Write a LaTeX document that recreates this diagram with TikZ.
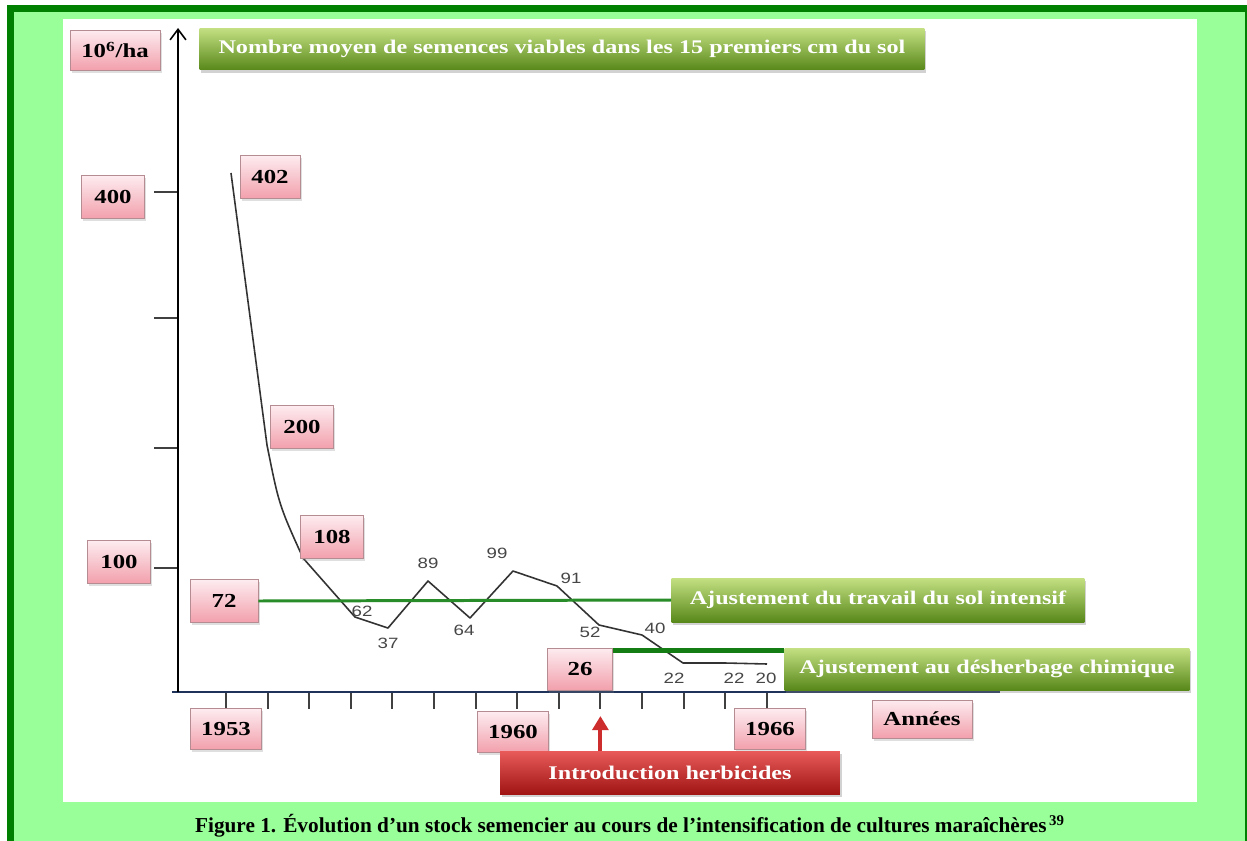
\documentclass[tikz,border=0pt]{standalone}
\usepackage{fontspec}
\setmainfont{Liberation Serif}
\setsansfont{Liberation Sans}
\newfontfamily\figfont[FakeStretch=1.25]{Liberation Serif}
\newfontfamily\figsans[FakeStretch=1.25]{Liberation Sans}
\usetikzlibrary{arrows.meta,shadows}

\definecolor{framedark}{RGB}{0,128,0}
\definecolor{framelight}{RGB}{153,255,153}
\definecolor{pinktop}{RGB}{253,236,240}
\definecolor{pinkbot}{RGB}{242,160,172}
\definecolor{pinkedge}{RGB}{180,140,145}
\definecolor{greentop}{RGB}{196,224,130}
\definecolor{greenmid}{RGB}{128,180,52}
\definecolor{greenbot}{RGB}{88,136,26}
\definecolor{redtop}{RGB}{232,90,90}
\definecolor{redmid}{RGB}{205,45,45}
\definecolor{redbot}{RGB}{160,20,20}
\definecolor{axisblue}{RGB}{30,50,90}
\definecolor{lineadj}{RGB}{40,140,40}
\definecolor{lineherb}{RGB}{20,125,20}
\definecolor{valgray}{RGB}{70,70,70}

\begin{document}
\begin{tikzpicture}[
    x=0.02cm, y=-0.02cm,
    pinkbox/.style={draw=pinkedge, top color=pinktop, bottom color=pinkbot, inner sep=1pt,
        minimum height=0.86cm, font=\figfont\bfseries\fontsize{11.3}{13}\selectfont,
        drop shadow={opacity=0.25, shadow xshift=1pt, shadow yshift=-1.5pt}},
    greenbox/.style={top color=greentop, middle color=greenmid, bottom color=greenbot,
        minimum height=0.84cm, text=white, font=\figfont\bfseries\fontsize{11}{13}\selectfont,
        drop shadow={opacity=0.35, shadow xshift=1pt, shadow yshift=-1.5pt}},
    redbox/.style={top color=redtop, middle color=redmid, bottom color=redbot,
        minimum height=0.86cm, text=white, font=\figfont\bfseries\fontsize{11}{13}\selectfont,
        drop shadow={opacity=0.35, shadow xshift=1pt, shadow yshift=-1.5pt}},
    val/.style={font=\figsans\fontsize{8.5}{10}\selectfont, text=valgray, inner sep=0pt},
    dataline/.style={draw=black!80, line width=0.9pt, line join=round},
    xaxis/.style={draw=axisblue, line width=1.7pt},
    yaxis/.style={line width=0.9pt, -{Straight Barb[length=6pt, width=9pt]}},
    axtick/.style={draw=black!75, line width=1.1pt},
    redarrow/.style={draw=redmid, line width=2.2pt, -{Triangle[length=8pt, width=9pt]}, shorten >=4pt}
]
    % frame and background
    \useasboundingbox (0,0) rectangle (1247,841);
    \fill[white] (0,0) rectangle (1247,841);
    \fill[framedark] (7,5) rectangle (1247,841);
    \fill[framelight] (14,12) rectangle (1245,841);
    \fill[white] (63,19) rectangle (1197,802);

    % axes
    \coordinate (O) at (178,692);
    \coordinate (Ytop) at (178,28);
    \coordinate (Xleft) at (172,692);
    \coordinate (Xright) at (1000,692);
    \foreach \py in {192,318,448,568} \draw[axtick] (154,\py) -- (178,\py);
    \foreach \i in {0,...,13} {
        \coordinate (T\i) at ({226+41.6*\i},709);
        \draw[axtick] ({226+41.6*\i},692) -- (T\i);
    }
    \draw[xaxis] (Xleft) -- (Xright);
    \draw[yaxis] (O) -- (Ytop);

    % axis labels
    \node[pinkbox, minimum width=1.8cm, minimum height=0.8cm] (unit) at (115,50) {10\textsuperscript{6}/ha};
    \foreach \lbl/\px/\py in {400/113/197, 100/119/562}
        \node[pinkbox, minimum width=1.26cm] (y\lbl) at (\px,\py) {\lbl};
    \foreach \lbl/\px/\py in {1953/226/729, 1960/513/732, 1966/770/729}
        \node[pinkbox, minimum width=1.42cm, minimum height=0.82cm] (x\lbl) at (\px,\py) {\lbl};
    \node[pinkbox, minimum width=2cm, minimum height=0.76cm] (annees) at (922,719) {Années};

    % data
    \foreach \yr/\px/\py in {1953/231/173, 1954/267/445, 1955/303/558, 1956/355/617, 1957/388/628,
        1958/428/581, 1959/470/618, 1960/513/571, 1961/557/586, 1962/599/625, 1963/642/635,
        1964/683/663, 1965/725/663, 1966/767/664} {
        \coordinate (P\yr) at (\px,\py);
    }
    \draw[dataline] (P1953) -- (P1954) .. controls (279,505) .. (P1955) -- (P1956) -- (P1957)
        -- (P1958) -- (P1959) -- (P1960) -- (P1961) -- (P1962) -- (P1963) -- (P1964)
        -- (P1965) -- (P1966);
    \foreach \v/\px/\py [count=\k] in {62/362/611, 37/388/643, 89/428/563, 64/464/630, 99/497/553,
        91/571/578, 52/590/632, 40/655/628, 22/674/678, 22/734/678, 20/766/678}
        \node[val] (v\k) at (\px,\py) {\v};

    % value boxes
    \node[pinkbox, minimum width=1.2cm] (b402) at (270,177) {402};
    \node[pinkbox, minimum width=1.26cm] (b200) at (302,427) {200};
    \node[pinkbox, minimum width=1.26cm] (b108) at (332,537) {108};
    \node[pinkbox, minimum width=1.36cm] (b72) at (224,601) {72};
    \node[pinkbox, minimum width=1.3cm, minimum height=0.84cm] (b26) at (580,669) {26};

    % titles
    \node[greenbox, minimum width=14.5cm] (title) at (562,49)
        {Nombre moyen de semences viables dans les 15 premiers cm du sol};
    \node[greenbox, minimum width=8.26cm, minimum height=0.88cm] (travail) at (878,600)
        {Ajustement du travail du sol intensif};
    \node[greenbox, minimum width=8.1cm] (desherb) at (987,669)
        {Ajustement au désherbage chimique};
    \node[redbox, minimum width=6.8cm] (intro) at (670,773) {Introduction herbicides};

    % connectors
    \draw[lineadj, line width=1.7pt] (b72.east) -- (travail.west);
    \draw[lineherb, line width=2.8pt] ([yshift=-1.5pt]b26.north east) -- ([yshift=-1.5pt]desherb.north west);
    \draw[redarrow] (intro.north -| T9) -- (T9);

    % caption
    \node[font=\bfseries\fontsize{12.1}{14}\selectfont] (caption) at (630,826)
        {Figure 1. Évolution d’un stock semencier au cours de l’intensification de cultures maraîchères\textsuperscript{\,39}};
\end{tikzpicture}
\end{document}
